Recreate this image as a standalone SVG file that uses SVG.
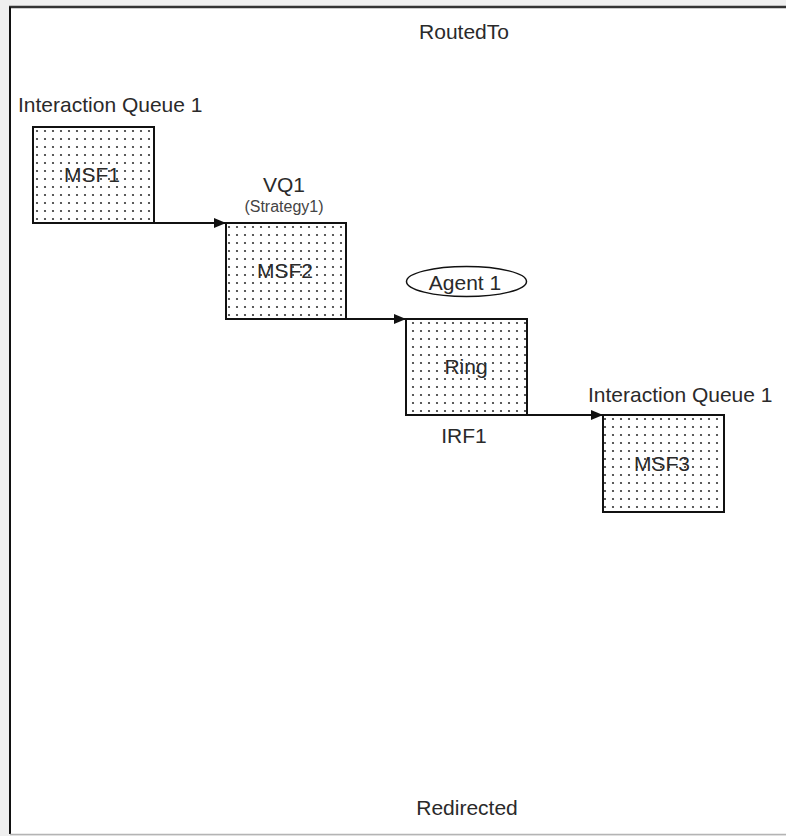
<svg xmlns="http://www.w3.org/2000/svg" width="786" height="836" viewBox="0 0 786 836">
  <style>
    .lbl { font-family: "Liberation Sans", Arial, sans-serif; font-size: 21px; fill: #2a2a2a; }
    .mid { text-anchor: middle; }
    .small { font-size: 16px; fill: #444; }
    .box { fill: url(#dots); stroke: #111; stroke-width: 2; }
    .wire { fill: none; stroke: #111; stroke-width: 2; }
  </style>
  <defs>
    <pattern id="dots" x="33" y="127" width="8" height="8" patternUnits="userSpaceOnUse">
      <rect width="8" height="8" fill="#fff"/>
      <circle cx="4" cy="4" r="1.1" fill="#333"/>
    </pattern>
    <marker id="arrow" viewBox="0 0 12 10" refX="12" refY="5" markerWidth="12" markerHeight="10" markerUnits="userSpaceOnUse" orient="auto">
      <path d="M0,0 L12,5 L0,10 Z" fill="#111"/>
    </marker>
  </defs>

  <!-- page frame -->
  <rect x="0" y="0" width="786" height="836" fill="#efefef"/>
  <rect x="10" y="8" width="776" height="826" fill="#fff"/>
  <line x1="9" y1="7" x2="786" y2="7" stroke="#333" stroke-width="2.5"/>
  <line x1="10" y1="7" x2="10" y2="834" stroke="#111" stroke-width="2"/>
  <line x1="10" y1="834.5" x2="786" y2="834.5" stroke="#b4b4b4" stroke-width="1.5"/>

  <text class="lbl mid" x="464" y="39">RoutedTo</text>
  <text class="lbl mid" x="467" y="815">Redirected</text>

  <!-- connectors -->
  <g id="connectors">
    <line class="wire" x1="154" y1="223" x2="226" y2="223" marker-end="url(#arrow)"/>
    <line class="wire" x1="346" y1="319" x2="406" y2="319" marker-end="url(#arrow)"/>
    <line class="wire" x1="527" y1="415" x2="603" y2="415" marker-end="url(#arrow)"/>
  </g>

  <g id="msf1">
    <text class="lbl" x="18" y="112">Interaction Queue 1</text>
    <rect class="box" x="33" y="127" width="121" height="96"/>
    <text class="lbl mid" x="92" y="182">MSF1</text>
  </g>

  <g id="msf2">
    <text class="lbl mid" x="284" y="192">VQ1</text>
    <text class="lbl small mid" x="284" y="212">(Strategy1)</text>
    <rect class="box" x="226" y="223" width="120" height="96"/>
    <text class="lbl mid" x="285" y="278">MSF2</text>
  </g>

  <g id="agent1">
    <ellipse cx="466.5" cy="281.5" rx="60" ry="15" fill="#fff" stroke="#111" stroke-width="1.5"/>
    <text class="lbl mid" x="465" y="290">Agent 1</text>
  </g>

  <g id="ring">
    <rect class="box" x="406" y="319" width="121" height="96"/>
    <text class="lbl mid" x="466" y="374">Ring</text>
    <text class="lbl mid" x="464" y="443">IRF1</text>
  </g>

  <g id="msf3">
    <text class="lbl" x="588" y="402">Interaction Queue 1</text>
    <rect class="box" x="603" y="415" width="121" height="97"/>
    <text class="lbl mid" x="662" y="471">MSF3</text>
  </g>
</svg>
